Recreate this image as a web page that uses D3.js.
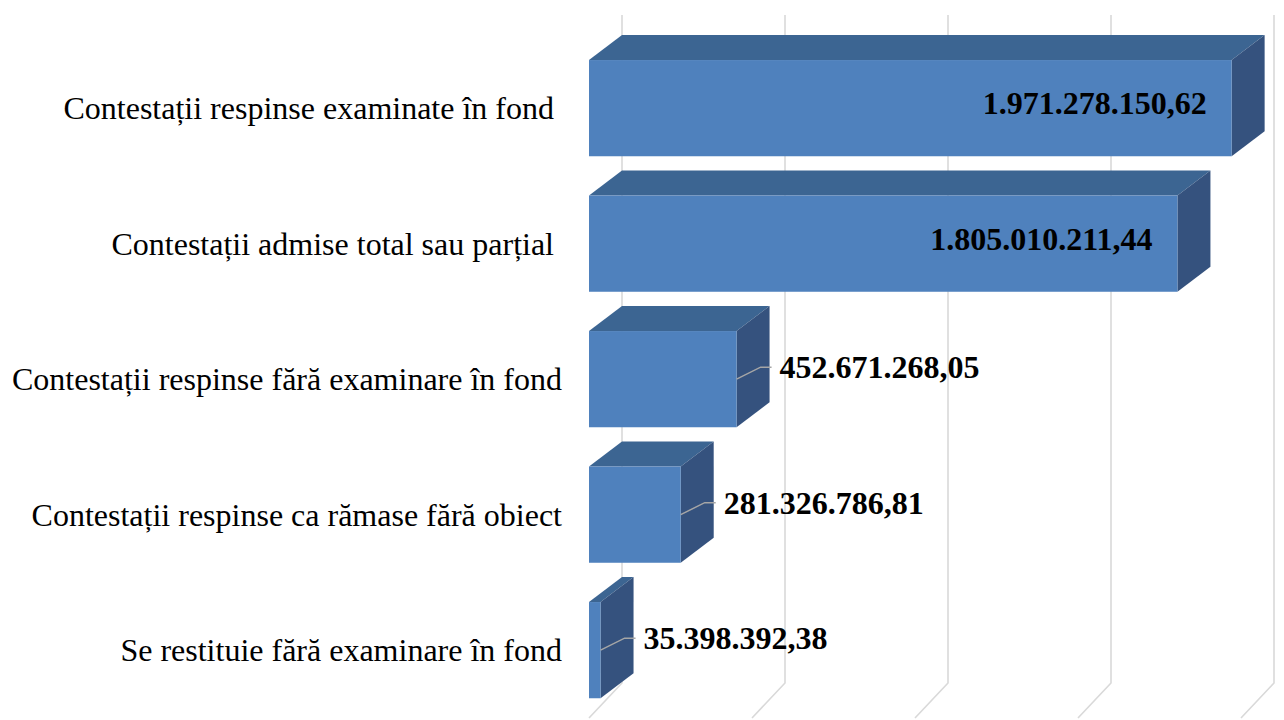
<!DOCTYPE html>
<html>
<head>
<meta charset="utf-8">
<script src="https://cdn.jsdelivr.net/npm/d3@7"></script>
<style>
  html, body { margin: 0; padding: 0; background: #ffffff; }
  svg { display: block; }
  text { font-family: "Liberation Serif", "Times New Roman", serif; white-space: pre; }
</style>
</head>
<body>
<svg id="chart" width="1284" height="720"></svg>
<script>
// ---- data ----
const categories = [
  "Contestații respinse examinate în fond ",
  "Contestații admise total sau parțial ",
  "Contestații respinse fără examinare în fond",
  "Contestații respinse ca rămase fără obiect",
  "Se restituie fără examinare în fond"
];
const values = [1971278150.62, 1805010211.44, 452671268.05, 281326786.81, 35398392.38];
const tickValues = [0, 500000000, 1000000000, 1500000000, 2000000000];

// ---- layout ----
const W = 1284, H = 720;
const depthX = 33, depthY = 25;
const svg = d3.select("#chart");

const x = d3.scaleLinear().domain([0, 2000000000]).range([589, 1241]);
const y = d3.scaleBand().domain(categories).range([40.4, 717.9]).paddingInner(0.29).paddingOuter(0.145);

const ro = d3.formatLocale({ decimal: ",", thousands: ".", grouping: [3], currency: ["", ""] });
const fmt = ro.format(",.2f");

// gridlines (back wall + floor diagonal)
const grid = svg.append("g");
const gridTop = 15, gridBottom = 683, floorY = 718;
tickValues.forEach(t => {
  const xb = x(t) + depthX;
  grid.append("path")
    .attr("d", `M${xb},${gridTop} L${xb},${gridBottom} L${x(t)},${floorY}`)
    .attr("fill", "none")
    .attr("stroke", "#d9d9d9")
    .attr("stroke-width", 1.6);
});

// bars
const bars = svg.append("g");
categories.forEach((c, i) => {
  const x0 = x(0), x1 = x(values[i]);
  const y0 = y(c), h = y.bandwidth();
  const g = bars.append("g");
  // top face
  g.append("path")
    .attr("d", `M${x0},${y0} L${x0 + depthX},${y0 - depthY} L${x1 + depthX},${y0 - depthY} L${x1},${y0} Z`)
    .attr("fill", "#3c6592");
  // right face
  g.append("path")
    .attr("d", `M${x1},${y0} L${x1 + depthX},${y0 - depthY} L${x1 + depthX},${y0 + h - depthY} L${x1},${y0 + h} Z`)
    .attr("fill", "#35527e");
  // front face
  g.append("rect")
    .attr("x", x0).attr("y", y0)
    .attr("width", x1 - x0).attr("height", h)
    .attr("fill", "#4f81bd");
});

// category labels
svg.append("g").selectAll("text")
  .data(categories)
  .join("text")
  .attr("x", 562)
  .attr("y", d => y(d) + y.bandwidth() / 2 + 11)
  .attr("text-anchor", "end")
  .attr("font-size", 32)
  .attr("fill", "#000")
  .text(d => d);

// value labels
const labels = svg.append("g");
categories.forEach((c, i) => {
  const x1 = x(values[i]);
  const cy = y(c) + y.bandwidth() / 2;
  const inside = (x1 - x(0)) > 400;
  if (inside) {
    labels.append("text")
      .attr("x", x1 - 25)
      .attr("y", cy + 6)
      .attr("text-anchor", "end")
      .attr("font-size", 32)
      .attr("font-weight", "bold")
      .attr("fill", "#000")
      .text(fmt(values[i]));
  } else {
    const ly = cy - 12;
    labels.append("path")
      .attr("d", `M${x1},${cy} L${x1 + 24},${ly} L${x1 + 35},${ly}`)
      .attr("fill", "none")
      .attr("stroke", "#a6a6a6")
      .attr("stroke-width", 1.5);
    labels.append("text")
      .attr("x", x1 + 43)
      .attr("y", ly + 11)
      .attr("text-anchor", "start")
      .attr("font-size", 32)
      .attr("font-weight", "bold")
      .attr("fill", "#000")
      .text(fmt(values[i]));
  }
});
</script>
</body>
</html>
